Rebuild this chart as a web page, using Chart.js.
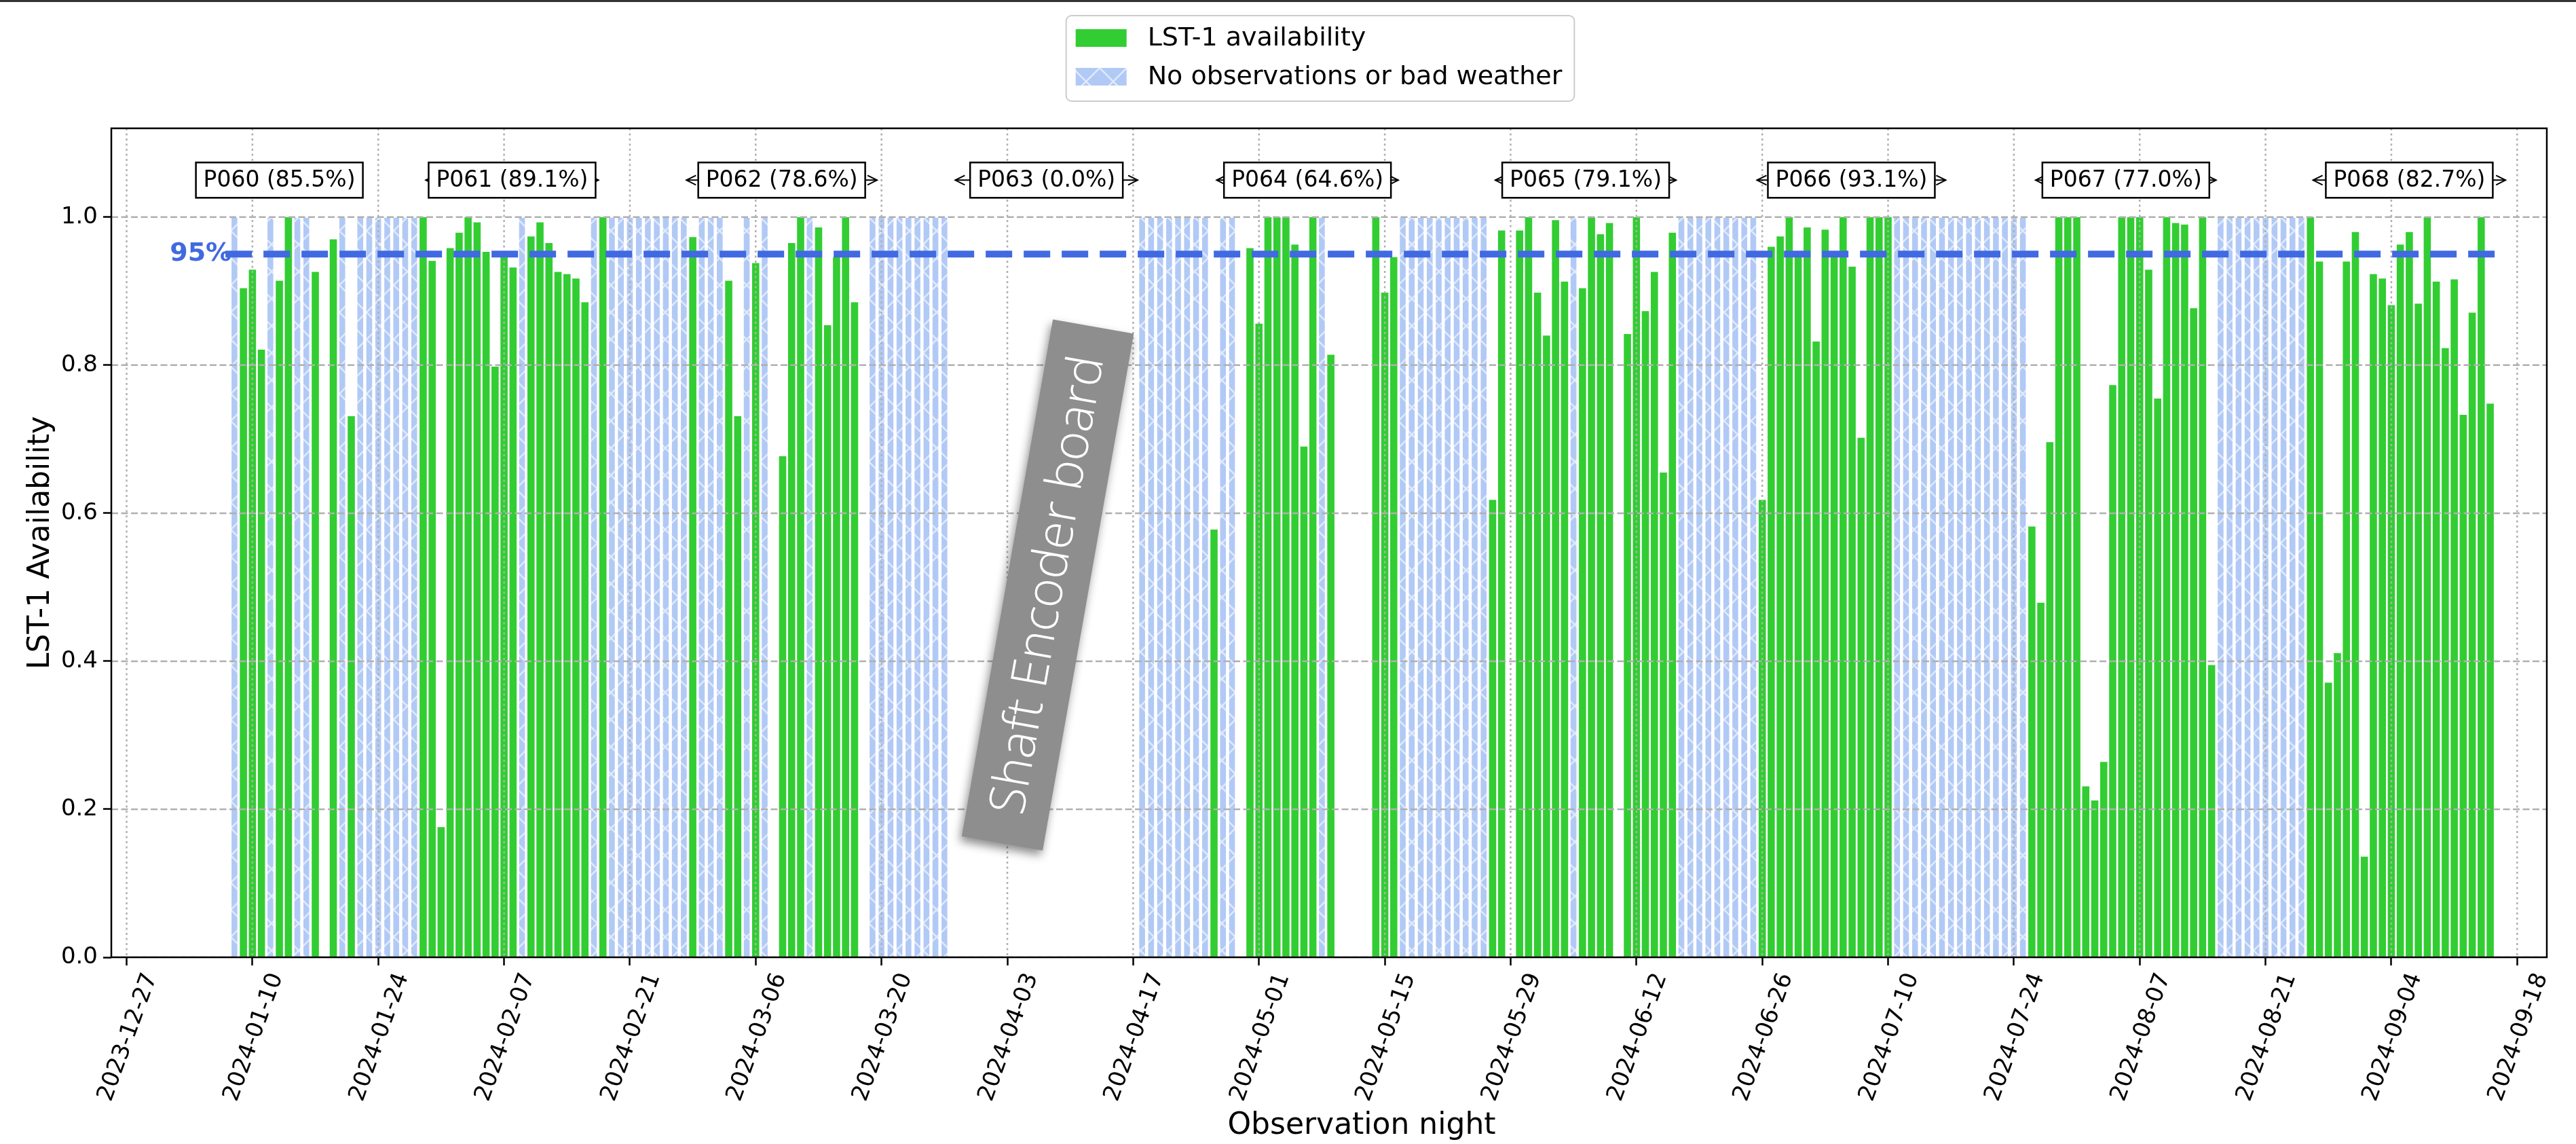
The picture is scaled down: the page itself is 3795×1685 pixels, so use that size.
<!DOCTYPE html>
<html>
<head>
<meta charset="utf-8">
<title>LST-1 availability</title>
<script src="https://cdn.jsdelivr.net/npm/chart.js@4.4.1/dist/chart.umd.min.js"></script>
<style>
  html, body { margin: 0; padding: 0; background: #fff; }
  canvas { display: block; }
</style>
</head>
<body>
<canvas id="availabilityChart" width="3795" height="1685"></canvas>
<script>
// nights with LST-1 data and the availability on that night
const obsNights = [
    '2024-01-09', '2024-01-10', '2024-01-11', '2024-01-13', '2024-01-14', '2024-01-17', '2024-01-19', '2024-01-21', '2024-01-29', '2024-01-30', '2024-01-31',
    '2024-02-01', '2024-02-02', '2024-02-03', '2024-02-04', '2024-02-05', '2024-02-06', '2024-02-07', '2024-02-08', '2024-02-10', '2024-02-11', '2024-02-12', '2024-02-13', '2024-02-14', '2024-02-15', '2024-02-16', '2024-02-18', '2024-02-28',
    '2024-03-03', '2024-03-04', '2024-03-06', '2024-03-09', '2024-03-10', '2024-03-11', '2024-03-13', '2024-03-14', '2024-03-15', '2024-03-16', '2024-03-17',
    '2024-04-26', '2024-04-30',
    '2024-05-01', '2024-05-02', '2024-05-03', '2024-05-04', '2024-05-05', '2024-05-06', '2024-05-07', '2024-05-09', '2024-05-14', '2024-05-15', '2024-05-16', '2024-05-27', '2024-05-28', '2024-05-30', '2024-05-31',
    '2024-06-01', '2024-06-02', '2024-06-03', '2024-06-04', '2024-06-06', '2024-06-07', '2024-06-08', '2024-06-09', '2024-06-11', '2024-06-12', '2024-06-13', '2024-06-14', '2024-06-15', '2024-06-16', '2024-06-26', '2024-06-27', '2024-06-28', '2024-06-29', '2024-06-30',
    '2024-07-01', '2024-07-02', '2024-07-03', '2024-07-04', '2024-07-05', '2024-07-06', '2024-07-07', '2024-07-08', '2024-07-09', '2024-07-10', '2024-07-26', '2024-07-27', '2024-07-28', '2024-07-29', '2024-07-30', '2024-07-31',
    '2024-08-01', '2024-08-02', '2024-08-03', '2024-08-04', '2024-08-05', '2024-08-06', '2024-08-07', '2024-08-08', '2024-08-09', '2024-08-10', '2024-08-11', '2024-08-12', '2024-08-13', '2024-08-14', '2024-08-15', '2024-08-26', '2024-08-27', '2024-08-28', '2024-08-29', '2024-08-30', '2024-08-31',
    '2024-09-01', '2024-09-02', '2024-09-03', '2024-09-04', '2024-09-05', '2024-09-06', '2024-09-07', '2024-09-08', '2024-09-09', '2024-09-10', '2024-09-11', '2024-09-12', '2024-09-13', '2024-09-14', '2024-09-15'
];
const availability = [
    0.904, 0.929, 0.821, 0.914, 1.0, 0.926, 0.970, 0.731, 1.0, 0.941, 0.176,
    0.958, 0.979, 1.0, 0.993, 0.953, 0.798, 0.953, 0.932, 0.974, 0.993, 0.965, 0.926, 0.923, 0.917, 0.885, 1.0, 0.973,
    0.914, 0.731, 0.938, 0.677, 0.965, 1.0, 0.986, 0.854, 0.946, 1.0, 0.885,
    0.578, 0.958,
    0.856, 1.0, 1.0, 1.0, 0.963, 0.690, 1.0, 0.814, 1.0, 0.898, 0.946, 0.618, 0.982, 0.982, 1.0,
    0.898, 0.840, 0.996, 0.913, 0.904, 1.0, 0.977, 0.992, 0.842, 1.0, 0.873, 0.926, 0.655, 0.979, 0.618, 0.960, 0.974, 1.0, 0.949,
    0.986, 0.832, 0.983, 0.949, 1.0, 0.933, 0.702, 1.0, 1.0, 1.0, 0.582, 0.479, 0.696, 1.0, 1.0, 1.0,
    0.231, 0.212, 0.264, 0.773, 1.0, 1.0, 1.0, 0.929, 0.755, 1.0, 0.992, 0.990, 0.877, 1.0, 0.395, 1.0, 0.940, 0.371, 0.411, 0.940, 0.980,
    0.136, 0.923, 0.917, 0.881, 0.963, 0.980, 0.883, 1.0, 0.913, 0.823, 0.916, 0.733, 0.871, 1.0, 0.748
];
// nights lost (no observations or bad weather), drawn at full height
const noObsNights = [
    '2024-01-08', '2024-01-12', '2024-01-15', '2024-01-16', '2024-01-20', '2024-01-22', '2024-01-23', '2024-01-24', '2024-01-25', '2024-01-26', '2024-01-27', '2024-01-28',
    '2024-02-09', '2024-02-17', '2024-02-19', '2024-02-20', '2024-02-21', '2024-02-22', '2024-02-23', '2024-02-24', '2024-02-25', '2024-02-26', '2024-02-27', '2024-02-29',
    '2024-03-01', '2024-03-02', '2024-03-05', '2024-03-07', '2024-03-12', '2024-03-19', '2024-03-20', '2024-03-21', '2024-03-22', '2024-03-23', '2024-03-24', '2024-03-25', '2024-03-26', '2024-03-27',
    '2024-04-18', '2024-04-19', '2024-04-20', '2024-04-21', '2024-04-22', '2024-04-23', '2024-04-24', '2024-04-25', '2024-04-27', '2024-04-28',
    '2024-05-08', '2024-05-17', '2024-05-18', '2024-05-19', '2024-05-20', '2024-05-21', '2024-05-22', '2024-05-23', '2024-05-24', '2024-05-25', '2024-05-26',
    '2024-06-05', '2024-06-17', '2024-06-18', '2024-06-19', '2024-06-20', '2024-06-21', '2024-06-22', '2024-06-23', '2024-06-24', '2024-06-25',
    '2024-07-11', '2024-07-12', '2024-07-13', '2024-07-14', '2024-07-15', '2024-07-16', '2024-07-17', '2024-07-18', '2024-07-19', '2024-07-20', '2024-07-21', '2024-07-22', '2024-07-23', '2024-07-24', '2024-07-25',
    '2024-08-16', '2024-08-17', '2024-08-18', '2024-08-19', '2024-08-20', '2024-08-21', '2024-08-22', '2024-08-23', '2024-08-24', '2024-08-25'
];

// observation periods (dark time between full moons)
const periodNames = ['P060', 'P061', 'P062', 'P063', 'P064', 'P065', 'P066', 'P067', 'P068'];
const periodShares = [85.5, 89.1, 78.6, 0.0, 64.6, 79.1, 93.1, 77.0, 82.7];
const periodStarts = ['2024-01-04 00:00', '2024-01-29 07:00', '2024-02-27 07:00', '2024-03-28 05:00', '2024-04-26 07:00', '2024-05-27 07:00', '2024-06-25 10:00', '2024-07-26 10:00', '2024-08-26 07:00'];
const periodEnds = ['2024-01-22 00:00', '2024-02-17 12:00', '2024-03-19 12:00', '2024-04-17 12:00', '2024-05-16 12:00', '2024-06-16 10:00', '2024-07-16 10:00', '2024-08-15 12:00', '2024-09-16 17:00'];

const tickLabels = ['2023-12-27', '2024-01-10', '2024-01-24', '2024-02-07', '2024-02-21', '2024-03-06', '2024-03-20', '2024-04-03', '2024-04-17', '2024-05-01',
    '2024-05-15', '2024-05-29', '2024-06-12', '2024-06-26', '2024-07-10', '2024-07-24', '2024-08-07', '2024-08-21', '2024-09-04', '2024-09-18'];
const yTicks = [0, 0.2, 0.4, 0.6, 0.8, 1.0];
const legendLabels = ['LST-1 availability', 'No observations or bad weather'];

const target = 0.95;
const periodLabelY = 1.05;
const shaftNote = { text: 'Shaft Encoder board', night: '2024-04-07 12:00', y: 0.503 };

const colors = {
    avail: '#32cd32',
    noObs: '#b1c9f5',
    target: '#4169e1',
    grid: '#b0b0b0',
    note: '#8e8e8e'
};

function toDay(s) {
    const [date, time = '00:00'] = s.split(' ');
    const [y, m, d] = date.split('-').map(Number);
    const [hh, mm] = time.split(':').map(Number);
    return Date.UTC(y, m - 1, d, hh, mm) / 86400000;
}

const tickDays = tickLabels.map(toDay);
const allNights = obsNights.concat(noObsNights).map(toDay);
const firstNight = Math.min(...allNights);
const lastNight = Math.max(...allNights);

const canvas = document.getElementById('availabilityChart');
const ctx = canvas.getContext('2d');

function hatchPattern(base) {
    const size = 40;
    const tile = document.createElement('canvas');
    tile.width = tile.height = size;
    const g = tile.getContext('2d');
    g.fillStyle = base;
    g.fillRect(0, 0, size, size);
    g.strokeStyle = 'rgba(255,255,255,0.6)';
    g.lineWidth = 2.5;
    g.beginPath();
    for (const o of [-size, 0, size]) {
        g.moveTo(o, 0); g.lineTo(o + size, size);
        g.moveTo(o, size); g.lineTo(o + size, 0);
    }
    g.stroke();
    return ctx.createPattern(tile, 'repeat');
}
const hatch = hatchPattern(colors.noObs);

function drawGrid(chart) {
    const { ctx, chartArea: a, scales: { x, y } } = chart;
    ctx.save();
    ctx.beginPath();
    ctx.rect(a.left, a.top, a.width, a.height);
    ctx.clip();
    ctx.strokeStyle = colors.grid;
    ctx.lineWidth = 2.5;
    ctx.setLineDash([3, 4.5]);
    x.ticks.forEach(t => {
        const px = x.getPixelForValue(t.value);
        ctx.beginPath(); ctx.moveTo(px, a.top); ctx.lineTo(px, a.bottom); ctx.stroke();
    });
    ctx.setLineDash([10, 4.5]);
    y.ticks.forEach(t => {
        const py = y.getPixelForValue(t.value);
        ctx.beginPath(); ctx.moveTo(a.left, py); ctx.lineTo(a.right, py); ctx.stroke();
    });
    ctx.restore();
}

function arrowHead(ctx, tipX, y, dir) {
    ctx.beginPath();
    ctx.moveTo(tipX + dir * 14, y - 7);
    ctx.lineTo(tipX, y);
    ctx.lineTo(tipX + dir * 14, y + 7);
    ctx.stroke();
}

function drawPeriods(chart) {
    const { ctx, scales: { x, y } } = chart;
    const py = y.getPixelForValue(periodLabelY);
    ctx.save();
    ctx.font = '33px "DejaVu Sans"';
    ctx.textAlign = 'center';
    ctx.textBaseline = 'middle';
    periodNames.forEach((name, i) => {
        const x1 = x.getPixelForValue(toDay(periodStarts[i]));
        const x2 = x.getPixelForValue(toDay(periodEnds[i]));
        ctx.strokeStyle = '#000';
        ctx.lineWidth = 2;
        ctx.beginPath(); ctx.moveTo(x1, py); ctx.lineTo(x2, py); ctx.stroke();
        arrowHead(ctx, x1, py, 1);
        arrowHead(ctx, x2, py, -1);

        const label = `${name} (${periodShares[i].toFixed(1)}%)`;
        const w = ctx.measureText(label).width + 22;
        const h = 52;
        const cx = (x1 + x2) / 2;
        ctx.fillStyle = '#fff';
        ctx.fillRect(cx - w / 2, py - h / 2, w, h);
        ctx.lineWidth = 2.5;
        ctx.strokeRect(cx - w / 2, py - h / 2, w, h);
        ctx.fillStyle = '#000';
        ctx.fillText(label, cx, py + 1);
    });
    ctx.restore();
}

function drawShaftNote(chart) {
    const { ctx, scales: { x, y } } = chart;
    const cx = x.getPixelForValue(toDay(shaftNote.night));
    const cy = y.getPixelForValue(shaftNote.y);
    const w = 773, h = 121;
    ctx.save();
    ctx.translate(cx, cy);
    ctx.rotate(-80 * Math.PI / 180);
    ctx.shadowColor = 'rgba(0,0,0,0.45)';
    ctx.shadowBlur = 14;
    ctx.shadowOffsetX = -3;
    ctx.shadowOffsetY = 7;
    ctx.fillStyle = colors.note;
    ctx.fillRect(-w / 2, -h / 2, w, h);
    ctx.shadowColor = 'transparent';
    ctx.font = '300 100px "Open Sans", Lato, sans-serif';
    const size = 100 * 684 / ctx.measureText(shaftNote.text).width;
    ctx.font = `300 ${size}px "Open Sans", Lato, sans-serif`;
    ctx.fillStyle = '#fff';
    ctx.textAlign = 'center';
    ctx.textBaseline = 'middle';
    ctx.fillText(shaftNote.text, 0, 2);
    ctx.restore();
}

function drawLegend(chart) {
    const { ctx, chartArea: a } = chart;
    ctx.save();
    ctx.font = '38px "DejaVu Sans"';
    const textW = Math.max(...legendLabels.map(l => ctx.measureText(l).width));
    const w = 14 + 75 + 31 + textW + 18;
    const h = 126;
    const left = (a.left + a.right) / 2 - 13 - w / 2;
    const top = 23;
    ctx.fillStyle = 'rgba(255,255,255,0.8)';
    ctx.strokeStyle = '#cccccc';
    ctx.lineWidth = 2;
    ctx.beginPath();
    ctx.roundRect(left, top, w, h, 8);
    ctx.fill();
    ctx.stroke();
    const fills = [colors.avail, hatch];
    legendLabels.forEach((label, i) => {
        const rowY = top + 33 + i * 57;
        ctx.fillStyle = fills[i];
        ctx.fillRect(left + 14, rowY - 13, 75, 26);
        ctx.fillStyle = '#000';
        ctx.textBaseline = 'middle';
        ctx.fillText(label, left + 14 + 75 + 31, rowY + 1);
    });
    ctx.restore();
}

const overlay = {
    id: 'overlay',
    afterDatasetDraw(chart, args) {
        // green bars are the last bars drawn: grid goes over them, under the 95% line
        if (args.index === 0) drawGrid(chart);
    },
    afterDraw(chart) {
        const { ctx, chartArea: a, scales: { x, y } } = chart;
        ctx.save();
        ctx.strokeStyle = '#000';
        ctx.lineWidth = 2.5;
        ctx.strokeRect(a.left, a.top, a.width, a.height);

        ctx.font = 'bold 38px "DejaVu Sans"';
        ctx.fillStyle = colors.target;
        ctx.textAlign = 'right';
        ctx.textBaseline = 'middle';
        ctx.fillText(`${Math.round(target * 100)}%`, x.getPixelForValue(firstNight - 1) + 9, y.getPixelForValue(target));

        // x axis title
        ctx.font = '44px "DejaVu Sans"';
        ctx.fillStyle = '#000';
        ctx.textAlign = 'center';
        ctx.fillText('Observation night', (a.left + a.right) / 2 + 48, chart.height - 26);

        ctx.fillStyle = '#333';
        ctx.fillRect(0, 0, chart.width, 3);
        ctx.restore();

        drawPeriods(chart);
        drawShaftNote(chart);
        drawLegend(chart);
    }
};

Chart.defaults.font.family = '"DejaVu Sans", sans-serif';
Chart.defaults.color = '#000';

new Chart(ctx, {
    type: 'bar',
    data: {
        datasets: [
            {
                label: legendLabels[0],
                data: obsNights.map((n, i) => ({ x: toDay(n), y: availability[i] })),
                backgroundColor: colors.avail,
                borderWidth: 0,
                grouped: false,
                barPercentage: 0.8,
                categoryPercentage: 1,
                order: 1
            },
            {
                label: legendLabels[1],
                data: noObsNights.map(n => ({ x: toDay(n), y: 1 })),
                backgroundColor: hatch,
                borderColor: 'rgba(255,255,255,0.8)',
                borderWidth: 1,
                grouped: false,
                barPercentage: 0.8,
                categoryPercentage: 1,
                order: 2
            },
            {
                type: 'line',
                label: '95%',
                data: [{ x: firstNight - 1, y: target }, { x: lastNight + 1, y: target }],
                borderColor: colors.target,
                borderWidth: 10,
                borderDash: [39, 17],
                pointRadius: 0,
                order: 0
            }
        ]
    },
    options: {
        responsive: false,
        animation: false,
        devicePixelRatio: 1,
        events: [],
        layout: { padding: { left: 0, right: 43, top: 189, bottom: 0 } },
        plugins: {
            legend: { display: false },
            tooltip: { enabled: false }
        },
        scales: {
            x: {
                type: 'linear',
                min: tickDays[0] - 1.7,
                max: tickDays[tickDays.length - 1] + 3.3,
                offset: false,
                afterBuildTicks: axis => { axis.ticks = tickDays.map(v => ({ value: v })); },
                afterFit: scale => { scale.height = 275; },
                grid: { offset: false, drawOnChartArea: false, tickLength: 12, tickWidth: 2.5, tickColor: '#000' },
                border: { display: false },
                ticks: {
                    autoSkip: false,
                    minRotation: 70,
                    maxRotation: 70,
                    labelOffset: 36,
                    padding: 6,
                    color: '#000',
                    font: { size: 34 },
                    callback: v => tickLabels[tickDays.indexOf(v)]
                },
                title: { display: false }
            },
            y: {
                min: 0,
                max: 1.12,
                afterBuildTicks: axis => { axis.ticks = yTicks.map(v => ({ value: v })); },
                afterFit: scale => { scale.width = 164; },
                grid: { drawOnChartArea: false, tickLength: 12, tickWidth: 2.5, tickColor: '#000' },
                border: { display: false },
                ticks: {
                    padding: 8,
                    color: '#000',
                    font: { size: 34 },
                    callback: v => v.toFixed(1)
                },
                title: { display: true, text: 'LST-1 Availability', color: '#000', font: { size: 44 }, padding: { top: 34, bottom: 0 } }
            }
        }
    },
    plugins: [overlay]
});
</script>
</body>
</html>
